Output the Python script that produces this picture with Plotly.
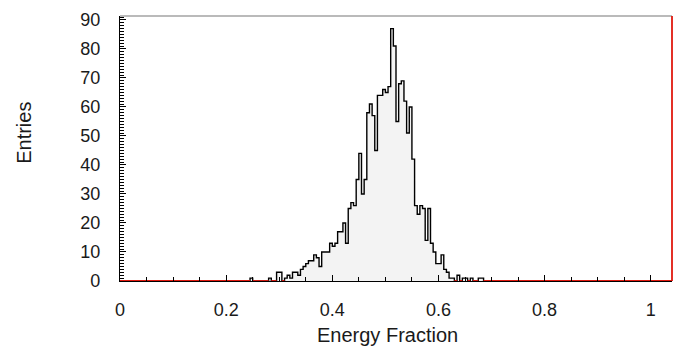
import numpy as np
import plotly.graph_objects as go

# ---- data ----
bin_width = 0.005
x_max = 1.04
y_max = 91.35
first_bin = 0.240          # left edge of the first listed bin
entries = [
    0, 1, 0, 0, 0, 0, 0, 0,          # 0.240 - 0.275
    1, 0, 0, 3, 3, 0, 1, 2,          # 0.280 - 0.315
    1, 3, 3, 2, 4, 5, 6, 7,          # 0.320 - 0.355
    7, 9, 8, 5, 10, 10, 10, 13,      # 0.360 - 0.395
    12, 13, 17, 17, 20, 13, 25, 27,  # 0.400 - 0.435
    26, 35, 44, 30, 35, 58, 61, 57,  # 0.440 - 0.475
    45, 64, 64, 66, 65, 67, 87, 81,  # 0.480 - 0.515
    55, 68, 69, 62, 51, 60, 42, 26,  # 0.520 - 0.555
    23, 26, 25, 14, 25, 13, 10, 6,   # 0.560 - 0.595
    6, 9, 4, 3, 1, 1, 0, 2,          # 0.600 - 0.635
    0, 1, 1, 0, 1, 0, 0, 1,          # 0.640 - 0.675
    1, 0,                            # 0.680 - 0.685
]
x_tick_vals = [0, 0.2, 0.4, 0.6, 0.8, 1.0]
x_tick_text = ["0", "0.2", "0.4", "0.6", "0.8", "1"]
y_tick_vals = [0, 10, 20, 30, 40, 50, 60, 70, 80, 90]

# ---- full histogram over the axis range ----
n_bins = int(round(x_max / bin_width))
edges = np.round(np.arange(n_bins + 1) * bin_width, 6)
counts = np.zeros(n_bins)
i0 = int(round(first_bin / bin_width))
counts[i0:i0 + len(entries)] = entries

step_x = list(edges)
step_y = list(counts) + [counts[-1]]

# red segments on empty bins
red_x, red_y = [], []
i = 0
while i < n_bins:
    if counts[i] == 0:
        j = i
        while j < n_bins and counts[j] == 0:
            j += 1
        red_x += [edges[i], edges[j], None]
        red_y += [0, 0, None]
        i = j
    else:
        i += 1

font = "Liberation Sans, Arial, sans-serif"
txt = "#1a1a1a"

fig = go.Figure()
fig.add_trace(go.Scatter(
    x=step_x, y=step_y, mode="lines", line_shape="hv",
    line=dict(color="black", width=1.4),
    fill="tozeroy", fillcolor="#f3f3f3", hoverinfo="skip", showlegend=False,
))
fig.add_trace(go.Scatter(
    x=red_x, y=red_y, mode="lines",
    line=dict(color="#e0190f", width=1.8), hoverinfo="skip", showlegend=False,
    cliponaxis=False,
))

fig.update_layout(
    width=675, height=342,
    margin=dict(l=112, r=11, t=2, b=69),
    paper_bgcolor="white", plot_bgcolor="white",
    font=dict(family=font, size=18, color=txt),
    xaxis=dict(
        range=[0, x_max], showgrid=False, zeroline=False,
        showline=True, linecolor="black", linewidth=1.2,
        ticks="inside", ticklen=6, tickcolor="black", tickwidth=1,
        tickvals=x_tick_vals, ticktext=x_tick_text,
        ticklabelstandoff=12, ticklabeloverflow="allow",
        minor=dict(dtick=0.05, ticks="inside", ticklen=4, tickcolor="black", showgrid=False),
    ),
    yaxis=dict(
        range=[0, y_max], showgrid=False, zeroline=False,
        showline=True, linecolor="black", linewidth=1.2,
        ticks="inside", ticklen=6, tickcolor="black", tickwidth=1,
        tickvals=y_tick_vals,
        ticklabelstandoff=15, ticklabeloverflow="allow",
        minor=dict(dtick=1, ticks="inside", ticklen=4, tickcolor="black", tickwidth=1, showgrid=False),
    ),
    shapes=[
        dict(type="line", xref="paper", yref="paper", x0=0, x1=1, y0=1, y1=1,
             line=dict(color="#777777", width=1.2)),
        dict(type="line", xref="paper", yref="paper", x0=1, x1=1, y0=0, y1=1,
             line=dict(color="#e0190f", width=1.8)),
    ],
    annotations=[
        dict(text="Energy Fraction", xref="paper", yref="paper", x=0.4855, y=-0.203,
             xanchor="center", yanchor="middle", showarrow=False,
             font=dict(family=font, size=20, color=txt)),
        dict(text="Entries", xref="paper", yref="paper", x=-0.174, y=0.559,
             xanchor="center", yanchor="middle", showarrow=False, textangle=-90,
             font=dict(family=font, size=20, color=txt)),
    ],
)

fig.write_html("out.html")
